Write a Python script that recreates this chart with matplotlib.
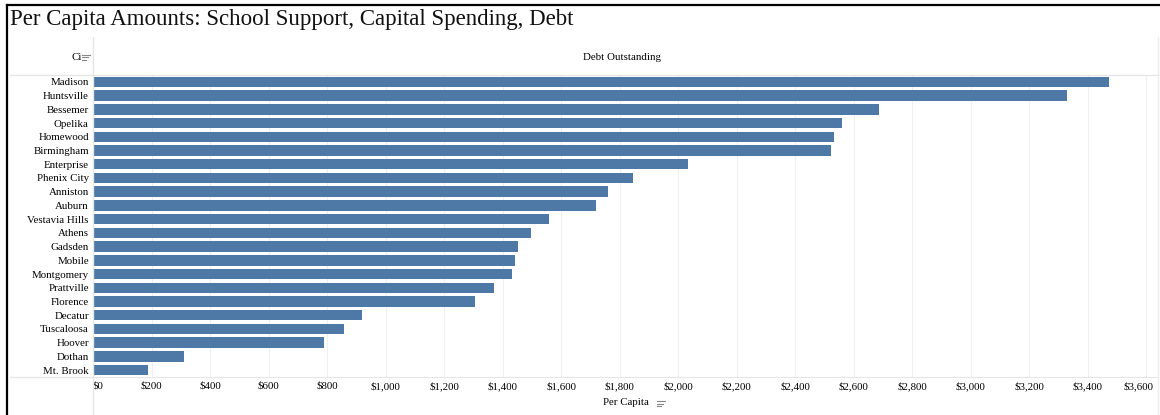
import numpy as np
import matplotlib.pyplot as plt
from matplotlib.lines import Line2D
import matplotlib.transforms as mtransforms

plt.rcParams['font.family'] = ['Liberation Serif', 'DejaVu Serif']

cities = ['Madison', 'Huntsville', 'Bessemer', 'Opelika', 'Homewood', 'Birmingham',
          'Enterprise', 'Phenix City', 'Anniston', 'Auburn', 'Vestavia Hills', 'Athens',
          'Gadsden', 'Mobile', 'Montgomery', 'Prattville', 'Florence', 'Decatur',
          'Tuscaloosa', 'Hoover', 'Dothan', 'Mt. Brook']
debt = [3472, 3330, 2688, 2560, 2535, 2523, 2034, 1846, 1760, 1720, 1559, 1497,
        1452, 1442, 1432, 1371, 1306, 920, 859, 790, 310, 188]
ticks = list(range(0, 3601, 200))
tick_labels = ['$0' if t == 0 else '${:,}'.format(t) for t in ticks]

W, H = 1160, 415
fig = plt.figure(figsize=(W / 100, H / 100), dpi=100)

def fx(px):
    return px / W

def fy(py):
    return 1 - py / H

ax = fig.add_axes([fx(93), fy(377), fx(1158) - fx(93), fy(75) - fy(377)])
y = np.arange(len(cities))
ax.barh(y, debt, height=0.76, color='#4e79a7', zorder=3)
ax.set_ylim(len(cities) - 0.5, -0.5)
ax.set_xlim(0, 3641)
ax.set_xticks(ticks)
ax.set_xticklabels(tick_labels, fontsize=7.8)
ax.set_yticks(y)
ax.set_yticklabels(cities, fontsize=7.8)
ax.tick_params(length=0, pad=3)
ax.tick_params(axis='y', pad=3)
ax.grid(axis='x', color='#f0f0f0', lw=0.8, zorder=0)
for s in ['top', 'left', 'right']:
    ax.spines[s].set_visible(False)
ax.spines['bottom'].set_color('#e6e6e6')
ax.set_xlabel('Per Capita', fontsize=7.8, labelpad=5)

xl = ax.get_xticklabels()
xl[0].set_ha('left')
xl[-1].set_transform(xl[-1].get_transform() +
                     mtransforms.ScaledTranslation(-8 / 100, 0, fig.dpi_scale_trans))

# frame and header lines
lc = '#e6e6e6'
fig.add_artist(Line2D([fx(10), fx(1160)], [fy(75), fy(75)], color=lc, lw=1))
fig.add_artist(Line2D([fx(10), fx(93)], [fy(377), fy(377)], color=lc, lw=1))
fig.add_artist(Line2D([fx(93), fx(93)], [fy(37), fy(415)], color=lc, lw=1))
fig.add_artist(Line2D([fx(1158), fx(1158)], [fy(37), fy(415)], color='#eeeeee', lw=1))
fig.add_artist(Line2D([fx(7), fx(1160)], [fy(5), fy(5)], color='black', lw=1.6))
fig.add_artist(Line2D([fx(7), fx(7)], [fy(5), fy(415)], color='black', lw=1.6))

fig.text(fx(10), fy(19), 'Per Capita Amounts: School Support, Capital Spending, Debt',
         fontsize=16.5, va='center', ha='left', color='#111111')
fig.text(fx(82), fy(57), 'Ci', fontsize=7.8, va='center', ha='right')
fig.text(fx(622), fy(57), 'Debt Outstanding', fontsize=7.8, va='center', ha='center')

# sort icons
def sort_icon(x0, y0):
    for i, w in enumerate([8, 6, 4]):
        fig.add_artist(Line2D([fx(x0), fx(x0 + w)], [fy(y0 + i * 2.5), fy(y0 + i * 2.5)],
                              color='#888888', lw=0.8))

sort_icon(82, 55)
sort_icon(657, 401)

fig.savefig('out.png', dpi=100)
